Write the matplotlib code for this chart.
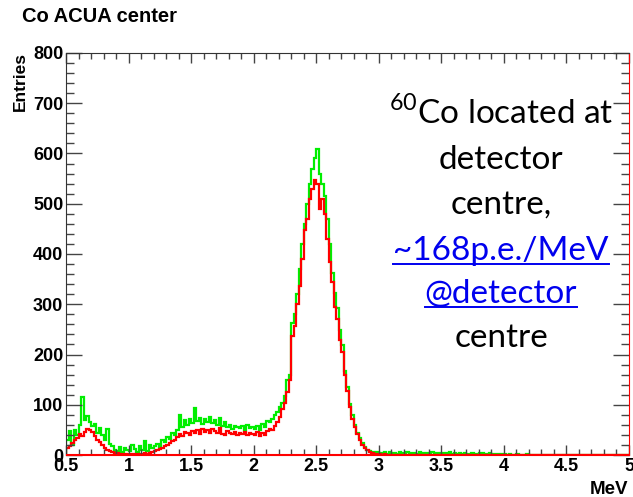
import numpy as np
import matplotlib
matplotlib.use("Agg")
import matplotlib.pyplot as plt
from matplotlib.ticker import MultipleLocator
from matplotlib.lines import Line2D

plt.rcParams['mathtext.fontset'] = 'custom'
plt.rcParams['mathtext.rm'] = 'Lato'

# Histogram range (MeV) and bin count
x_min, x_max = 0.5, 5.0

# Red histogram (entries per bin, 0.02 MeV bins)
red = [
    14, 18, 24, 30, 34,   42, 38, 46, 52, 50,   46, 38, 30, 26, 20,
    14, 10, 8, 6, 4,      3, 2, 2, 1, 2,        1, 2, 1, 2, 1,
    2, 3, 2, 4, 6,        8, 10, 12, 14, 18,    20, 24, 28, 30, 36,
    42, 38, 46, 44, 40,   48, 44, 50, 42, 52,   46, 50, 44, 52, 48,
    44, 54, 42, 40, 48,   44, 42, 46, 40, 44,   42, 46, 40, 44, 42,
    40, 46, 38, 44, 40,   48, 52, 50, 58, 66,   76, 92, 104, 126, 150,
    236, 256, 300, 336, 390,  448, 470, 510, 530, 548,
    540, 490, 510, 480, 430,  385, 345, 295, 270, 228,
    205, 160, 128, 95, 72,    56, 42, 30, 20, 14,  9, 5, 3, 2, 1,
] + [1, 0, 1, 0, 0] + [0] * 95

# Green histogram (entries per bin, 0.02 MeV bins)
green = [
    30, 48, 20, 50, 40,   60, 116, 70, 78, 66,  58, 62, 44, 54, 40,
    30, 52, 22, 18, 10,   8, 16, 6, 14, 10,     8, 20, 12, 6, 18,
    10, 28, 8, 20, 14,    18, 22, 16, 30, 26,   36, 32, 44, 40, 50,
    80, 56, 70, 60, 72,   64, 94, 68, 74, 62,   72, 66, 76, 64, 70,
    60, 74, 58, 66, 56,   60, 52, 58, 56, 54,   58, 50, 60, 54, 56,
    52, 58, 50, 62, 56,   68, 66, 72, 80, 86,   96, 104, 118, 150, 160,
    262, 280, 320, 370, 420,  460, 500, 540, 570, 592,
    608, 560, 540, 515, 470,  420, 362, 322, 292, 248,
    218, 168, 136, 102, 80,   60, 44, 34, 24, 16,  10, 8, 6, 4, 5,
    4, 3, 6, 2, 5, 3, 4, 2, 6, 3, 2, 5, 1, 4, 3, 2, 5, 3, 1, 4,
    2, 5, 1, 3, 2, 4, 1, 3, 5, 2, 3, 1, 4, 2, 3, 1, 2, 3, 1, 2,
    3, 4, 1, 2, 3, 1, 2, 1, 0, 2, 1, 0, 1, 0, 0, 1, 0, 0, 0, 1,
] + [0] * 40

x_ticks = [0.5, 1, 1.5, 2, 2.5, 3, 3.5, 4, 4.5, 5]
x_tick_labels = ["0.5", "1", "1.5", "2", "2.5", "3", "3.5", "4", "4.5", "5"]
y_ticks = [0, 100, 200, 300, 400, 500, 600, 700, 800]

W, H = 633, 497
fig = plt.figure(figsize=(W / 100, H / 100), dpi=100)
fig.patch.set_facecolor('white')
ax = fig.add_axes([66 / W, 1 - 455 / H, 563 / W, 402 / H])

edges = np.linspace(x_min, x_max, len(red) + 1)
ax.stairs(green, edges, color='#00ee00', lw=1.6, baseline=0)
ax.stairs(red, edges, color='#ff0000', lw=1.6, baseline=0)
ax.axhline(0, color='#ff0000', lw=1.5, zorder=5)

ax.set_xlim(x_min, x_max)
ax.set_ylim(0, 800)
ax.set_xticks(x_ticks)
ax.set_xticklabels(x_tick_labels)
ax.set_yticks(y_ticks)
ax.xaxis.set_minor_locator(MultipleLocator(0.1))
ax.yaxis.set_minor_locator(MultipleLocator(20))
ax.tick_params(which='both', direction='in', top=True, right=True,
               color='#444444', width=1)
ax.tick_params(which='major', labelsize=13)
ax.tick_params(axis='y', which='major', length=11.5, pad=2)
ax.tick_params(axis='y', which='minor', length=6)
ax.tick_params(axis='x', which='major', length=7.5, pad=2)
ax.tick_params(axis='x', which='minor', length=4)
for lab in ax.get_xticklabels() + ax.get_yticklabels():
    lab.set_fontweight('bold')
    lab.set_family('Liberation Sans')
for s in ['left', 'top']:
    ax.spines[s].set_color('#333333')
ax.spines['right'].set_color('#ff0000')
ax.spines['bottom'].set_color('#ff0000')

fig.text(22 / W, 1 - 17 / H, 'Co ACUA center', fontsize=14.5, fontweight='bold',
         family='Liberation Sans', ha='left', va='center')
fig.text(20 / W, 1 - 52 / H, 'Entries', fontsize=12.5, fontweight='bold',
         family='Liberation Sans', rotation=90, ha='center', va='top')
fig.text(628 / W, 1 - 489 / H, 'MeV', fontsize=13.5, fontweight='bold',
         family='Liberation Sans', ha='right', va='center')

cx = 501 / W
lines = [
    (r'$^{60}$Co located at', 124, 'black', False),
    ('detector', 169, 'black', False),
    ('centre,', 214, 'black', False),
    ('~168p.e./MeV', 260, '#0000ee', True),
    ('@detector', 303, '#0000ee', True),
    ('centre', 347, 'black', False),
]
texts = []
for s, yb, col, ul in lines:
    t = fig.text(cx, 1 - yb / H, s, fontsize=24, family='Lato', color=col,
                 ha='center', va='baseline')
    texts.append((t, yb, col, ul))

fig.canvas.draw()
r = fig.canvas.get_renderer()
for t, yb, col, ul in texts:
    if ul:
        bb = t.get_window_extent(renderer=r)
        yy = 1 - (yb + 4) / H
        fig.add_artist(Line2D([bb.x0 / fig.bbox.width, bb.x1 / fig.bbox.width],
                              [yy, yy], color=col, lw=1.4,
                              transform=fig.transFigure))

fig.savefig('out.png', dpi=100)
